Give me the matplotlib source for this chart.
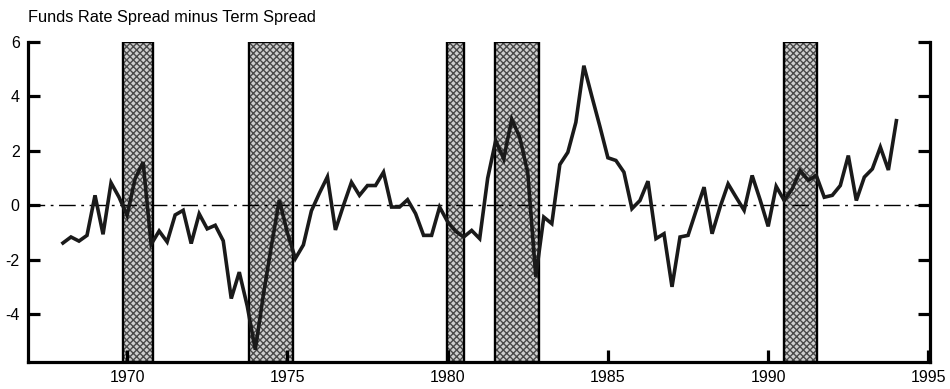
import numpy as np
import matplotlib
matplotlib.use("Agg")
import matplotlib.pyplot as plt
from matplotlib.ticker import FixedLocator

plt.rcParams['font.family'] = ['Liberation Sans', 'DejaVu Sans']

# quarterly series, 1968Q1 .. 1994Q1
start_year = 1968.0
spread = [
    -1.38, -1.16, -1.31, -1.10, 0.37, -1.06, 0.83, 0.30,
    -0.37, 0.98, 1.59, -1.43, -0.94, -1.34, -0.35, -0.18,
    -1.40, -0.31, -0.86, -0.73, -1.30, -3.42, -2.45, -3.70,
    -5.30, -3.30, -1.50, 0.20, -1.00, -1.95, -1.45, -0.20,
    0.45, 1.05, -0.90, 0.00, 0.85, 0.37, 0.73, 0.73,
    1.22, -0.06, -0.06, 0.21, -0.30, -1.10, -1.10, -0.06,
    -0.60, -0.95, -1.16, -0.92, -1.22, 1.00, 2.38, 1.71,
    3.17, 2.50, 1.20, -2.62, -0.43, -0.67, 1.50, 1.95,
    3.05, 5.13, 4.00, 2.90, 1.75, 1.65, 1.22, -0.12,
    0.18, 0.89, -1.22, -1.04, -2.99, -1.16, -1.10, -0.20,
    0.67, -1.04, -0.06, 0.79, 0.30, -0.18, 1.10, 0.20,
    -0.77, 0.70, 0.18, 0.61, 1.28, 0.92, 1.10, 0.30,
    0.37, 0.73, 1.83, 0.18, 1.04, 1.34, 2.14, 1.30,
    3.11,
]
years = start_year + 0.25 * np.arange(len(spread))

# recession periods (start, end)
rec_start = [1969.88, 1973.81, 1979.98, 1981.48, 1990.50]
rec_end = [1970.81, 1975.18, 1980.51, 1982.85, 1991.53]

x_ticks = [1970, 1975, 1980, 1985, 1990, 1995]
y_ticks = [-4, -2, 0, 2, 4, 6]

fig = plt.figure(figsize=(9.5, 3.89), dpi=100)
ax = fig.add_axes([0.0295, 0.0694, 0.9495, 0.8226])

for s, e in zip(rec_start, rec_end):
    ax.axvspan(s, e, facecolor='#cfcfcf', edgecolor='#4a4a4a', hatch='xxxxx', lw=0, zorder=1)
    ax.axvspan(s, e, fill=False, edgecolor='black', lw=1.7, zorder=2)

ax.axhline(0, color='black', lw=1.0, ls=(0, (12, 4, 2, 4)), zorder=2)
ax.plot(years, spread, color='#1a1a1a', lw=2.6, solid_joinstyle='miter', zorder=3)

ax.set_xlim(1966.91, 1995.05)
ax.set_ylim(-5.75, 6)
ax.set_xticks(x_ticks)
ax.set_yticks(y_ticks)
ax.set_xticklabels([str(t) for t in x_ticks])
ax.set_yticklabels([str(t) for t in y_ticks])

for side in ['left', 'right', 'bottom']:
    ax.spines[side].set_linewidth(2.3)
ax.spines['top'].set_visible(False)

ax.tick_params(axis='y', direction='in', length=8.5, width=2.3, labelsize=11.5,
               left=True, right=True, pad=6)
ax.tick_params(axis='x', direction='in', length=8.5, width=2.3, labelsize=11.5, pad=6)
ax.yaxis.set_minor_locator(FixedLocator([6]))
ax.tick_params(axis='y', which='minor', direction='in', length=16, width=2.3,
               left=True, right=True)

fig.text(0.0295, 0.955, 'Funds Rate Spread minus Term Spread', fontsize=11.8,
         ha='left', va='center')

fig.savefig('out.png', dpi=100, facecolor='white')
